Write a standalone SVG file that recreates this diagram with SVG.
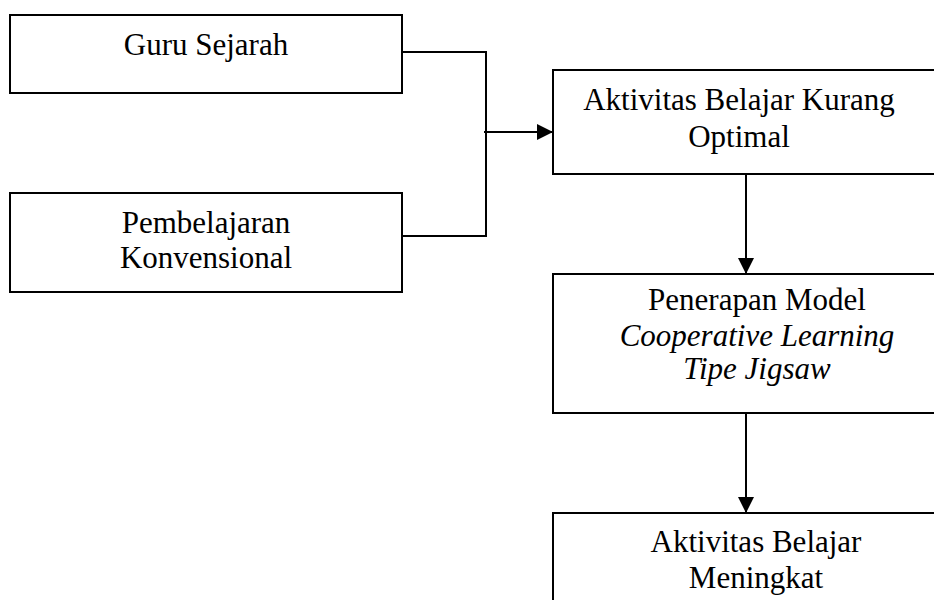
<svg xmlns="http://www.w3.org/2000/svg" width="934" height="600" viewBox="0 0 934 600">
<defs>
<style>
.box{fill:#fff;stroke:#000;stroke-width:2}
.t{font-family:"Liberation Serif","Times New Roman",serif;font-size:31px;fill:#000;text-anchor:middle}
.i{font-style:italic}
.c{fill:none;stroke:#000;stroke-width:2}
</style>
<marker id="ah" viewBox="0 0 16 16" refX="16" refY="8" markerWidth="16" markerHeight="16" markerUnits="userSpaceOnUse" orient="auto">
<path d="M0,0 L16,8 L0,16 Z" fill="#000"/>
</marker>
</defs>
<rect width="934" height="600" fill="#fff"/>
<g id="n1"><rect class="box" x="10" y="15" width="392" height="78"/><text class="t" x="206" y="55">Guru Sejarah</text></g>
<g id="n2"><rect class="box" x="10" y="193" width="392" height="99"/><text class="t" x="206" y="233">Pembelajaran</text><text class="t" x="206" y="268">Konvensional</text></g>
<g id="n3"><rect class="box" x="553" y="70" width="390" height="104"/><text class="t" x="739" y="110">Aktivitas Belajar Kurang</text><text class="t" x="739" y="147">Optimal</text></g>
<g id="n4"><rect class="box" x="553" y="274" width="390" height="139"/><text class="t" x="757" y="310">Penerapan Model</text><text class="t i" x="757" y="346">Cooperative Learning</text><text class="t i" x="757" y="379">Tipe Jigsaw</text></g>
<g id="n5"><rect class="box" x="553" y="513" width="390" height="100"/><text class="t" x="756" y="552">Aktivitas Belajar</text><text class="t" x="756" y="588">Meningkat</text></g>
<g id="connectors">
<path class="c" d="M402,52 H486 V236 H402"/>
<path class="c" d="M484,132 H553" marker-end="url(#ah)"/>
<path class="c" d="M746,174 V274" marker-end="url(#ah)"/>
<path class="c" d="M746,413 V513" marker-end="url(#ah)"/>
</g>
</svg>
